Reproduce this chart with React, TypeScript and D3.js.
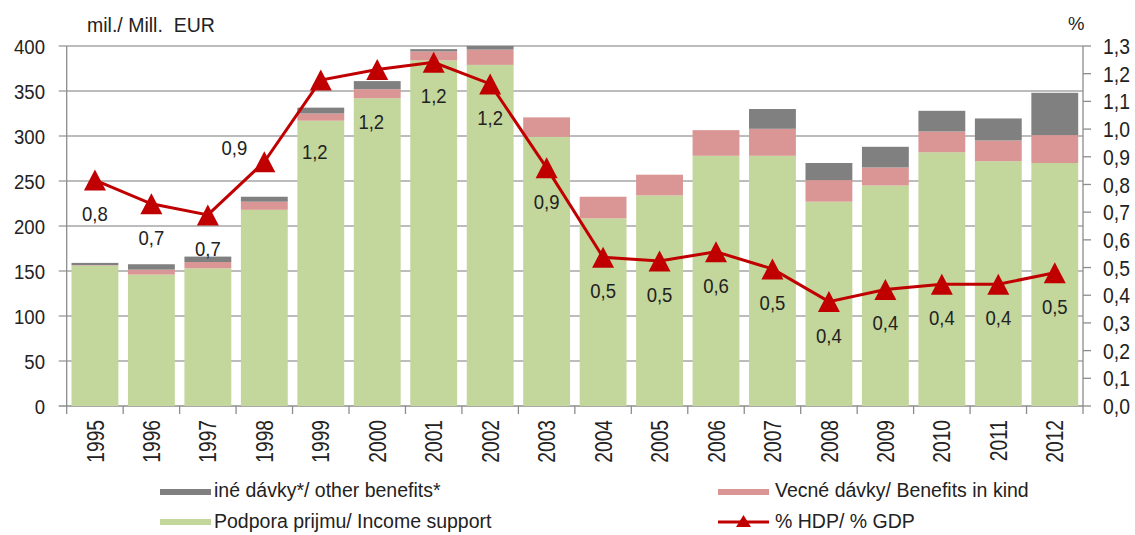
import React from "react";
import * as d3 from "d3";

const years = ["1995","1996","1997","1998","1999","2000","2001","2002","2003","2004","2005","2006","2007","2008","2009","2010","2011","2012"];
const incomeSupport = [156, 146, 153, 218, 317, 342, 384, 379, 299, 208.5, 234, 278, 278, 227, 245, 282, 272, 270];
const benefitsInKind = [0.5, 5.5, 7, 9, 8, 10, 10, 17, 21.7, 24, 23, 28.5, 30, 24, 20, 23, 23, 31];
const otherBenefits = [2.5, 6, 6, 5.5, 6.5, 9, 2.5, 4, 0, 0, 0, 0, 22, 19, 23, 23, 24.5, 47];
const pctGdp = [0.816, 0.73, 0.69, 0.882, 1.177, 1.215, 1.241, 1.163, 0.86, 0.537, 0.524, 0.557, 0.495, 0.377, 0.421, 0.44, 0.44, 0.481];
const leftTicks = [0, 50, 100, 150, 200, 250, 300, 350, 400];
const rightTicks = [0, 0.1, 0.2, 0.3, 0.4, 0.5, 0.6, 0.7, 0.8, 0.9, 1.0, 1.1, 1.2, 1.3];

const seriesNames = {
  other: "iné dávky*/ other benefits*",
  kind: "Vecné dávky/ Benefits in kind",
  income: "Podpora prijmu/ Income support",
  gdp: "% HDP/ % GDP",
};
const leftTitle = "mil./ Mill.\u00a0\u00a0EUR";
const rightTitle = "%";

// layout / style config
const W = 1135, H = 535;
const PL = 66.7, PR = 1083, PT = 46, PB = 406;
const COLORS = { income: "#c3d69b", kind: "#d99694", other: "#808080", line: "#c00000", grid: "#a6a6a6", axis: "#8c8c8c", text: "#222" };
const FONT = "'Liberation Sans', Arial, sans-serif";
const labelShift: Record<string, [number, number]> = { "1998": [-30, -14], "1999": [-6, 72], "2000": [-6, 52] };
const defaultShift: [number, number] = [0, 34];

const fmtComma = (v: number, d: number) => d3.format(`.${d}f`)(v).replace(".", ",");

function T(props: { x: number; y: number; size: number; sx?: number; rot?: number; anchor?: string; dy?: string; children: any }) {
  const { x, y, size, sx = 1, rot = 0, anchor = "start", dy, children } = props;
  return (
    <g transform={`translate(${x},${y}) rotate(${rot}) scale(${sx},1)`}>
      <text x={0} y={0} dy={dy} textAnchor={anchor} fontSize={size} fill={COLORS.text}>{children}</text>
    </g>
  );
}

export default function App() {
  const x = d3.scaleBand<string>().domain(years).range([PL, PR]).paddingInner(0.17).paddingOuter(0.085);
  const yL = d3.scaleLinear().domain([0, 400]).range([PB, PT]);
  const yR = d3.scaleLinear().domain([0, 1.3]).range([PB, PT]);

  const stackData = years.map((yr, i) => ({ year: yr, income: incomeSupport[i], kind: benefitsInKind[i], other: otherBenefits[i] }));
  const stack = d3.stack<any>().keys(["income", "kind", "other"]);
  const layers = stack(stackData);

  const cx = (yr: string) => (x(yr) as number) + x.bandwidth() / 2;
  const lineGen = d3.line<number>().x((_, i) => cx(years[i])).y((v) => yR(v));

  const tri = (px: number, py: number, w: number, h: number) =>
    `M${px},${py - h / 2}L${px + w / 2},${py + h / 2}L${px - w / 2},${py + h / 2}Z`;

  const boundaries = years.map((yr) => (x(yr) as number) - (x.step() * x.paddingInner()) / 2).concat([PR]);
  boundaries[0] = PL;

  return (
    <svg width={W} height={H} style={{ position: "absolute", left: 0, top: 0, background: "#fff" }} fontFamily={FONT}>
      {/* grid */}
      {leftTicks.map((t) => (
        <line key={"g" + t} x1={PL - 8} x2={PR} y1={yL(t)} y2={yL(t)} stroke={t === 0 ? COLORS.axis : COLORS.grid} strokeWidth={1.3} />
      ))}
      {/* left tick labels */}
      {leftTicks.map((t) => (
        <T key={"lt" + t} x={45} y={yL(t)} dy="0.36em" anchor="end" size={21} sx={0.885}>{t}</T>
      ))}
      {/* bars */}
      {layers.map((layer) => (
        <g key={layer.key} fill={(COLORS as any)[layer.key]}>
          {layer.map((d, i) => {
            const h = yL(d[0]) - yL(d[1]);
            if (h <= 0) return null;
            return <rect key={i} x={x(years[i])} width={x.bandwidth()} y={yL(d[1])} height={h} />;
          })}
        </g>
      ))}
      {/* axes */}
      <line x1={PL} x2={PL} y1={PT} y2={PB} stroke={COLORS.axis} strokeWidth={1.3} />
      <line x1={PR} x2={PR} y1={PT} y2={PB} stroke={COLORS.axis} strokeWidth={1.3} />
      {rightTicks.map((t) => (
        <line key={"rt" + t} x1={PR} x2={PR + 8} y1={yR(t)} y2={yR(t)} stroke={COLORS.axis} strokeWidth={1.3} />
      ))}
      {rightTicks.map((t) => (
        <T key={"rl" + t} x={1103} y={yR(t)} dy="0.36em" size={22.5} sx={0.86}>{fmtComma(t, 1)}</T>
      ))}
      {boundaries.map((b, i) => (
        <line key={"xt" + i} x1={b} x2={b} y1={PB} y2={PB + 8} stroke={COLORS.axis} strokeWidth={1.3} />
      ))}
      {years.map((yr) => (
        <T key={"xl" + yr} x={cx(yr)} y={420} rot={-90} dy="0.36em" anchor="end" size={24} sx={0.8}>{yr}</T>
      ))}
      {/* axis titles */}
      <T x={87} y={32} size={19.5}>{leftTitle}</T>
      <T x={1068} y={30} size={18.5}>{rightTitle}</T>
      {/* line */}
      <path d={lineGen(pctGdp) || ""} fill="none" stroke={COLORS.line} strokeWidth={3} />
      {pctGdp.map((v, i) => (
        <path key={"m" + i} d={tri(cx(years[i]), yR(v), 22, 21)} fill={COLORS.line} />
      ))}
      {pctGdp.map((v, i) => {
        const s = labelShift[years[i]] || defaultShift;
        return (
          <T key={"vl" + i} x={cx(years[i]) + s[0]} y={yR(v) + s[1]} dy="0.36em" anchor="middle" size={19.5} sx={0.95}>{fmtComma(v, 1)}</T>
        );
      })}
      {/* legend */}
      <rect x={160} y={489} width={51} height={6} fill={COLORS.other} />
      <T x={214} y={497} size={19.5}>{seriesNames.other}</T>
      <rect x={160} y={519} width={51} height={6} fill={COLORS.income} />
      <T x={214} y={528} size={19.5}>{seriesNames.income}</T>
      <rect x={718} y={489} width={51} height={6} fill={COLORS.kind} />
      <T x={775} y={497} size={19.5}>{seriesNames.kind}</T>
      <line x1={718} x2={769} y1={522} y2={522} stroke={COLORS.line} strokeWidth={3} />
      <path d={tri(743.5, 521, 15, 12)} fill={COLORS.line} />
      <T x={775} y={528} size={19.5}>{seriesNames.gdp}</T>
    </svg>
  );
}
